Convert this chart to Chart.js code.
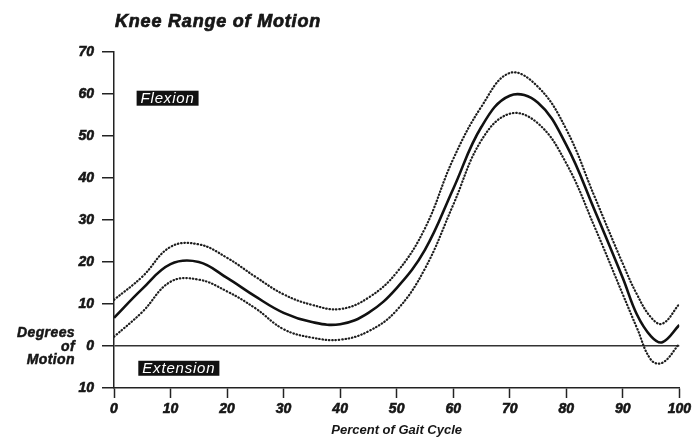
<!DOCTYPE html>
<html>
<head>
<meta charset="utf-8">
<script src="https://cdn.jsdelivr.net/npm/chart.js@4/dist/chart.umd.min.js"></script>
<style>
  html, body { margin: 0; padding: 0; background: #fff; }
  #wrap { width: 694px; height: 441px; }
</style>
</head>
<body>
<div id="wrap"><canvas id="kneeChart" width="694" height="441"></canvas></div>
<script>
// ---------- Data ----------
const gaitPct   = [0, 5, 10, 15, 20, 25, 30, 35, 40, 45, 50, 55, 60, 65, 70, 75, 80, 85, 90, 92.5, 95, 97, 100];
const kneeMean  = [6.7, 13.6, 19.5, 20.0, 16.2, 11.8, 7.9, 5.7, 5.2, 7.9, 13.8, 22.9, 37.4, 52.2, 59.6, 57.9, 47.9, 32.4, 16.2, 7.5, 2.3, 0.9, 5.0];
const kneeUpper = [11, 16.5, 23.6, 24.2, 21, 16.5, 12.3, 9.8, 8.8, 11.5, 17.5, 28, 44.5, 57, 65, 61.7, 51.6, 35.6, 19.6, 12.3, 6.8, 5.3, 10];
const kneeLower = [2.2, 8.1, 15.3, 15.8, 13, 9, 4, 2, 1.5, 3.5, 8.5, 18.4, 33.6, 49, 55.3, 53, 43.5, 28.4, 12.3, 4.3, -3.3, -4, 0.5];

const titleText = 'Knee Range of Motion';
const xTitle = 'Percent of Gait Cycle';
const yTitleLines = ['Degrees', 'of', 'Motion'];

const ink = '#161616';
const fontFam = '"Liberation Sans", Arial, sans-serif';

function toPoints(ys) {
  return gaitPct.map((p, i) => ({ x: p, y: ys[i] }));
}

function dotted(label, ys) {
  return {
    label,
    data: toPoints(ys),
    borderColor: '#1e1e1e',
    borderWidth: 2.2,
    borderDash: [0.5, 2.8],
    borderCapStyle: 'round',
    pointRadius: 0,
    fill: false,
    tension: 0.4
  };
}

// bold text with a thin stroke, to look like the heavy print face
function heavyText(ctx, text, x, y, w) {
  ctx.lineWidth = w;
  ctx.strokeStyle = ctx.fillStyle;
  ctx.strokeText(text, x, y);
  ctx.fillText(text, x, y);
}

// ---------- Text / label plugin ----------
const labelsPlugin = {
  id: 'kneeLabels',
  afterDraw(chart) {
    const ctx = chart.ctx;
    const xs = chart.scales.x, ys = chart.scales.y;
    ctx.save();

    // title
    ctx.fillStyle = ink;
    ctx.font = 'italic bold 18px ' + fontFam;
    ctx.letterSpacing = '0.8px';
    ctx.textAlign = 'left';
    ctx.textBaseline = 'middle';
    heavyText(ctx, titleText, 115, 22, 0.7);

    // y axis label (horizontal, three lines)
    ctx.font = 'italic bold 14px ' + fontFam;
    ctx.letterSpacing = '0.4px';
    ctx.textAlign = 'right';
    [333, 347, 360].forEach((yy, i) => heavyText(ctx, yTitleLines[i], 75, yy, 0.5));

    // black boxes with white text
    ctx.letterSpacing = '0.8px';
    ctx.font = 'italic 15px ' + fontFam;
    ctx.textAlign = 'left';
    function tag(text, xv, yv) {
      const left = xs.getPixelForValue(xv);
      const cy = ys.getPixelForValue(yv);
      const w = ctx.measureText(text).width + 8;
      ctx.fillStyle = '#111';
      ctx.fillRect(left, cy - 7.5, w, 15);
      ctx.fillStyle = '#fff';
      ctx.fillText(text, left + 4, cy + 1);
    }
    tag('Flexion', 4, 59);
    tag('Extension', 4.3, -5.3);

    ctx.restore();
  }
};

const tickFont = { family: fontFam, size: 14, weight: 'bold', style: 'italic' };

// ---------- Chart ----------
new Chart(document.getElementById('kneeChart').getContext('2d'), {
  type: 'line',
  data: {
    datasets: [
      {
        label: 'Mean',
        data: toPoints(kneeMean),
        borderColor: '#111',
        borderWidth: 2.6,
        pointRadius: 0,
        fill: false,
        tension: 0.4
      },
      dotted('Upper', kneeUpper),
      dotted('Lower', kneeLower)
    ]
  },
  options: {
    responsive: false,
    animation: false,
    devicePixelRatio: 1,
    layout: { padding: { top: 52, right: 13, left: 0, bottom: 0 } },
    plugins: {
      legend: { display: false },
      tooltip: { enabled: false },
      title: { display: false }
    },
    scales: {
      x: {
        type: 'linear',
        min: 0,
        max: 100,
        ticks: {
          stepSize: 10,
          color: ink,
          padding: 3,
          font: tickFont,
          textStrokeColor: ink,
          textStrokeWidth: 0.6
        },
        grid: { drawOnChartArea: false, drawTicks: true, tickLength: 10, tickColor: '#222', tickWidth: 1.5 },
        border: { color: '#222', width: 1.5 },
        title: {
          display: true,
          text: xTitle,
          color: ink,
          padding: { top: 0, bottom: 3 },
          font: { family: fontFam, size: 13, weight: 'bold', style: 'italic' }
        },
        afterFit: (s) => { s.height = 53; }
      },
      y: {
        type: 'linear',
        min: -10,
        max: 70,
        ticks: {
          stepSize: 10,
          color: ink,
          padding: 8,
          font: tickFont,
          textStrokeColor: ink,
          textStrokeWidth: 0.6,
          callback: (v) => Math.abs(v)
        },
        grid: {
          drawOnChartArea: true,
          drawTicks: true,
          tickLength: 12,
          tickColor: '#222',
          tickWidth: 1.5,
          lineWidth: 1.5,
          color: (c) => (c.tick && c.tick.value === 0 ? '#333' : 'rgba(0,0,0,0)')
        },
        border: { color: '#222', width: 1.5 },
        afterFit: (s) => { s.width = 114; }
      }
    }
  },
  plugins: [labelsPlugin]
});
</script>
</body>
</html>
